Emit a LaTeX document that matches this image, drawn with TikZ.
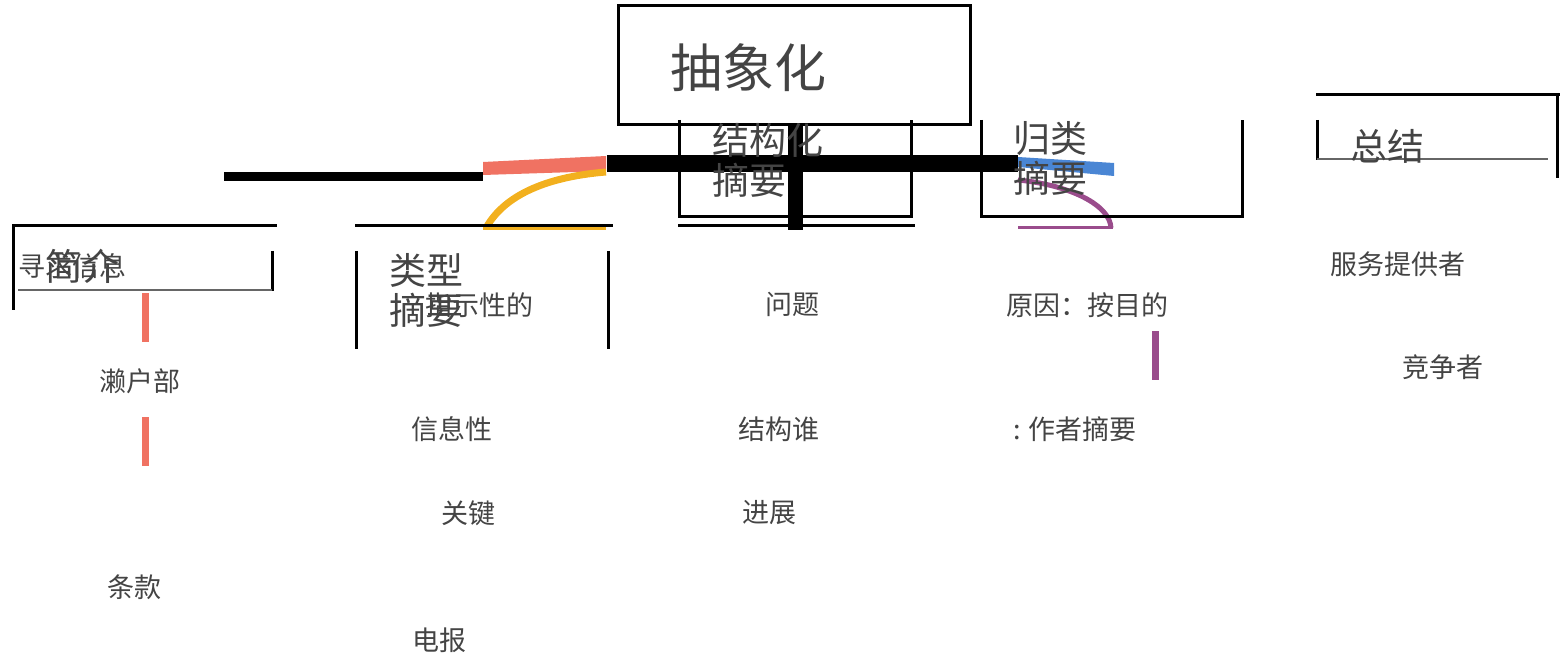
\documentclass[tikz,border=0pt]{standalone}
\usepackage{fontspec}
\setmainfont{Noto Sans CJK SC}
\usetikzlibrary{calc}
\definecolor{txt}{HTML}{444444}
\definecolor{salmon}{HTML}{F07262}
\definecolor{gold}{HTML}{F2B01E}
\definecolor{bluec}{HTML}{4A86D4}
\definecolor{purp}{HTML}{9A4C8C}
\tikzset{
  small/.style={font=\fontsize{27}{30}\selectfont, text=txt, inner sep=0pt, anchor=west},
  mid/.style={font=\fontsize{37}{44}\selectfont, text=txt, inner sep=0pt, anchor=west, align=left},
  big/.style={font=\fontsize{52}{60}\selectfont, text=txt, inner sep=0pt, anchor=west},
  frame/.style={line width=3pt, black},
  thin/.style={line width=1.3pt, black!60},
}
\begin{document}
\begin{tikzpicture}[x=1pt,y=-1pt]
\useasboundingbox (0,0) rectangle (1567,663);
% title
\draw[frame] (618,6) rectangle (970,125);
\node[big] (title) at (670,68) {抽象化};
% thick bars
\fill[black] (224,172) rectangle (483,181);
\fill[salmon] (483,162) -- (606,156) -- (606,171) -- (483,175) -- cycle;
\draw[gold, line width=7pt] (486,228) .. controls (510,185) and (570,175) .. (606,172);
\draw[gold, line width=3pt] (483,229) -- (606,229);
\fill[black] (607,155) rectangle (1018,172);
\fill[black] (788,125) rectangle (803,230);
\fill[bluec] (1018,157) -- (1114,163) -- (1114,176) -- (1018,167) -- cycle;
\draw[purp, line width=5pt] (1018,180) .. controls (1070,185) and (1110,205) .. (1111,228);
\draw[purp, line width=3pt] (1018,228) -- (1113,228);
% column 1
\draw[frame] (12,226) -- (277,226);
\draw[frame] (13,226) -- (13,310);
\draw[frame] (272,251) -- (272,291);
\draw[thin] (18,290) -- (272,290);
\node[small] (seek) at (18,266) {寻求信息};
\node[mid] (intro) at (45,266) {简介};
\fill[salmon] (142,293) rectangle (149,342);
\fill[salmon] (142,417) rectangle (149,466);
\node[small, anchor=center] (setobe) at (140,381) {濑户部};
\node[small, anchor=center] (clause) at (134,587) {条款};
% column 2
\draw[frame] (355,226) -- (613,226);
\draw[frame] (356,251) -- (356,349);
\draw[frame] (608,251) -- (608,349);
\node[mid] (types) at (389,290) {类型\\[-4pt]摘要};
\node[small] (indic) at (425,305) {指示性的};
\node[small] (info) at (411,429) {信息性};
\node[small] (key) at (441,513) {关键};
\node[small] (tele) at (412,640) {电报};
% column 3
\draw[frame] (679,120) -- (679,217) -- (911,217) -- (911,120);
\draw[frame] (678,226) -- (915,226);
\node[mid] (struct) at (712,160) {结构化\\[-4pt]摘要};
\node[small] (prob) at (765,304) {问题};
\node[small] (who) at (738,429) {结构谁};
\node[small] (prog) at (742,513) {进展};
% column 4
\draw[frame] (981,120) -- (981,217) -- (1242,217) -- (1242,120);
\node[mid] (cat) at (1013,158) {归类\\[-4pt]摘要};
\node[small] (reason) at (1006,305) {原因：按目的};
\fill[purp] (1152,331) rectangle (1159,380);
\node[small] (author) at (1013,429) {: 作者摘要};
% column 5
\draw[frame] (1316,95) -- (1560,95);
\draw[frame] (1557,93) -- (1557,178);
\draw[frame] (1317,120) -- (1317,160);
\draw[thin] (1317,159) -- (1548,159);
\node[mid] (summ) at (1350,146) {总结};
\node[small] (prov) at (1330,264) {服务提供者};
\node[small] (comp) at (1402,367) {竞争者};
\end{tikzpicture}
\end{document}
